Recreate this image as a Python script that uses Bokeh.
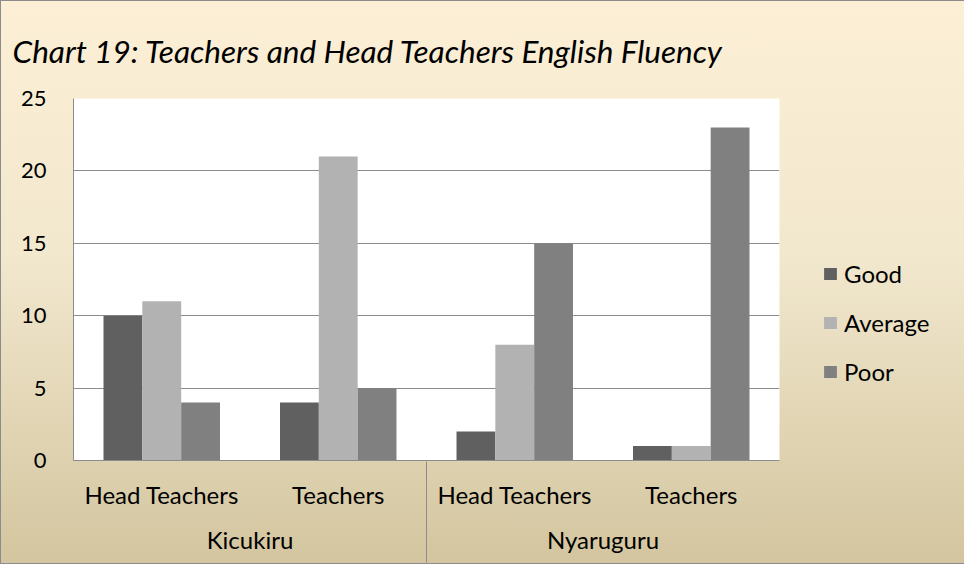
from bokeh.plotting import figure
from bokeh.models import (FactorRange, Range1d, Legend, LegendItem, FixedTicker,
                          CategoricalAxis, ColumnDataSource)
from bokeh.transform import dodge
from bokeh.embed import file_html
from bokeh.resources import INLINE

districts = ["Kicukiru", "Kicukiru", "Nyaruguru", "Nyaruguru"]
roles = ["Head Teachers", "Teachers", "Head Teachers", "Teachers"]
good = [10, 4, 2, 1]
average = [11, 21, 8, 1]
poor = [4, 5, 15, 23]
series = ["Good", "Average", "Poor"]
colors = ["#606060", "#b2b2b2", "#808080"]
y_ticks = [0, 5, 10, 15, 20, 25]

factors = list(zip(districts, roles))
src = ColumnDataSource(dict(x=factors, Good=good, Average=average, Poor=poor))

FONT = "Lato"

p = figure(frame_width=706, frame_height=362, output_backend="svg", toolbar_location=None,
           x_range=FactorRange(factors=factors, group_padding=0, range_padding=0,
                               factor_padding=0, subgroup_padding=0),
           y_range=Range1d(0, 25),
           title="Chart 19: Teachers and Head Teachers English Fluency")

p.styles = {"background": "linear-gradient(to bottom, #fcefd6 0%, #f2e8ce 45%, #d3c59f 100%)",
            "outline": "1px solid #8c8c8c", "outline-offset": "-1px"}
p.border_fill_color = None
p.background_fill_color = "white"
p.outline_line_color = None
p.min_border_left = 73
p.min_border_right = 150
p.min_border_top = 96
p.min_border_bottom = 104

p.title.text_font = FONT
p.title.text_font_style = "italic"
p.title.text_font_size = "31.5px"
p.title.text_color = "black"
p.title.align = "left"
p.title.offset = -61
p.title.standoff = 58

rs = []
offs = [-0.22, 0.0, 0.22]
for s, c, o in zip(series, colors, offs):
    r = p.vbar(x=dodge("x", o, range=p.x_range), top=s, width=0.22, source=src,
               fill_color=c, line_color=None)
    rs.append(r)

p.yaxis.ticker = FixedTicker(ticks=y_ticks)
p.yaxis.axis_line_color = "#8c8c8c"
p.yaxis.major_tick_line_color = None
p.yaxis.minor_tick_line_color = None
p.yaxis.major_label_text_font = FONT
p.yaxis.major_label_text_font_size = "22px"
p.yaxis.major_label_text_color = "black"
p.yaxis.major_label_standoff = 21

p.xaxis.axis_line_color = "#8c8c8c"
p.xaxis.major_tick_line_color = None
p.xaxis.major_label_text_font = FONT
p.xaxis.major_label_text_font_size = "24px"
p.xaxis.major_label_text_color = "black"
p.xaxis.major_label_standoff = 13
p.xaxis.group_text_font = FONT
p.xaxis.group_text_font_size = "24px"
p.xaxis.group_text_color = "black"
p.xaxis.group_text_font_style = "normal"
p.xaxis.separator_line_color = None

# separator lines at the left edge, between the districts and at the right edge
p.extra_x_ranges = {"sep": FactorRange(factors=["s0", "s1", "s2"], range_padding=-1,
                                       range_padding_units="absolute")}
sep_axis = CategoricalAxis(x_range_name="sep",
                           axis_line_color=None, major_tick_line_color="#8c8c8c",
                           major_tick_in=95, major_tick_out=6, minor_tick_line_color=None,
                           major_label_text_font_size="1px", major_label_standoff=0,
                           major_label_text_color=None)
p.add_layout(sep_axis, "below")

p.xgrid.grid_line_color = None
p.ygrid.grid_line_color = "#8c8c8c"
p.ygrid.ticker = FixedTicker(ticks=y_ticks)

legend = Legend(items=[LegendItem(label=s, renderers=[r]) for s, r in zip(series, rs)],
                location=(43, 74))
legend.background_fill_color = None
legend.background_fill_alpha = 0
legend.border_line_color = None
legend.label_text_font = FONT
legend.label_text_font_size = "24px"
legend.label_text_color = "black"
legend.glyph_width = 16
legend.glyph_height = 15
legend.spacing = 20
legend.label_standoff = 6
legend.margin = 0
legend.padding = 0
p.add_layout(legend, "right")

open("out.html", "w").write(file_html(p, INLINE))
